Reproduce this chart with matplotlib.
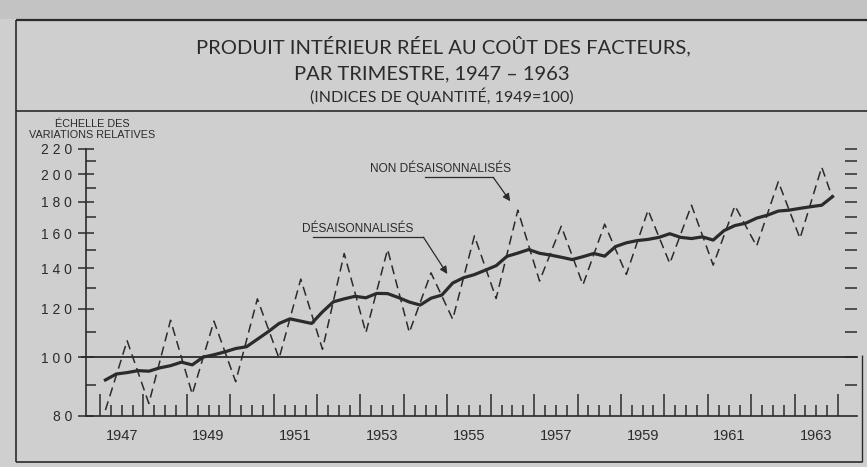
import numpy as np
import matplotlib
matplotlib.use('Agg')
import matplotlib.pyplot as plt
from matplotlib.lines import Line2D
from matplotlib.patches import Rectangle
from matplotlib.ticker import FixedLocator, FixedFormatter, NullFormatter

# ---------------- data ----------------
years = list(range(1947, 1964))

# Désaisonnalisés : one value per quarter, 1947 T1 ... 1963 T4
desaisonnalises = [
    91.7, 93.8, 94.3, 95.0,
    94.8, 96.0, 96.8, 98.1,
    97.1, 100.0, 100.9, 102.0,
    103.3, 104.0, 107.0, 110.1,
    113.6, 115.6, 114.6, 113.6,
    118.7, 123.3, 124.7, 125.9,
    125.2, 127.3, 127.2, 125.3,
    123.2, 121.8, 125.0, 126.5,
    132.4, 135.1, 136.7, 139.0,
    141.4, 146.5, 148.3, 150.3,
    148.2, 147.2, 146.0, 144.7,
    146.3, 148.1, 146.6, 152.0,
    154.2, 155.5, 156.2, 157.4,
    159.6, 157.4, 156.7, 157.7,
    155.8, 161.5, 164.6, 166.1,
    169.3, 171.2, 173.9, 174.5,
    175.7, 176.8, 177.8, 183.7,
]

# Non désaisonnalisés : troughs (1st quarter) and peaks (3rd quarter)
non_desais_t1 = [81.8, 83.9, 86.9, 91.1, 99.5, 103.0, 109.7, 109.8,
                 115.4, 124.9, 133.4, 131.5, 136.8, 142.6, 141.7, 152.3, 156.8]
non_desais_t3 = [106.4, 115.0, 114.6, 124.7, 134.4, 148.1, 150.4, 137.6,
                 158.3, 174.5, 164.2, 165.5, 174.5, 177.8, 177.4, 194.4, 205.4]
non_desais_1963_t4 = 182.6

y_ticks = [80, 100, 120, 140, 160, 180, 200, 220]
y_tick_labels = ['8 0', '1 0 0', '1 2 0', '1 4 0', '1 6 0', '1 8 0', '2 0 0', '2 2 0']
y_minor = [90, 110, 130, 150, 170, 190, 210]
y_right_ticks = [90, 100, 110, 120, 130, 140, 150, 160, 170, 180, 190, 200, 210, 220]
year_labels = ['1947', '1949', '1951', '1953', '1955', '1957', '1959', '1961', '1963']

# ---------------- style ----------------
BG = '#cfcfcf'
INK = '#2b2b2b'
W, H = 867, 467
plt.rcParams['font.family'] = ['Liberation Sans', 'DejaVu Sans']
TITLE_FONT = ['Lato', 'Liberation Sans', 'DejaVu Sans']


def fx(px):
    return px / W


def fy(py):
    return 1 - py / H


fig = plt.figure(figsize=(W / 100, H / 100), dpi=100, facecolor=BG)

# top band (scanned page above the frame)
fig.add_artist(Rectangle((0, fy(19)), 1, 1 - fy(19), transform=fig.transFigure,
                         facecolor='#c3c3c3', edgecolor='none', zorder=0))


def fline(x1, y1, x2, y2, lw=1.3):
    fig.add_artist(Line2D([fx(x1), fx(x2)], [fy(y1), fy(y2)], transform=fig.transFigure,
                          color=INK, lw=lw, solid_capstyle='butt'))


fline(16, 20, 867, 20, 1.6)
fline(16, 111, 867, 111, 1.2)
fline(16, 20, 16, 462, 1.2)
fline(16, 462, 862, 462, 1.2)
fline(862, 355, 862, 462, 1.0)

# titles
fig.text(fx(443), fy(46), 'PRODUIT INTÉRIEUR RÉEL AU COÛT DES FACTEURS,',
         ha='center', va='center', fontsize=14.5, color=INK, family=TITLE_FONT)
fig.text(fx(432), fy(74), 'PAR TRIMESTRE, 1947 – 1963',
         ha='center', va='center', fontsize=14.5, color=INK, family=TITLE_FONT)
fig.text(fx(442), fy(96), '(INDICES DE QUANTITÉ, 1949=100)',
         ha='center', va='center', fontsize=11.5, color=INK, family=TITLE_FONT)
fig.text(fx(92), fy(124), 'ÉCHELLE DES', ha='center', va='center', fontsize=7.8, color=INK)
fig.text(fx(92), fy(135), 'VARIATIONS RELATIVES', ha='center', va='center', fontsize=7.8, color=INK)

# ---------------- axes ----------------
ax = fig.add_axes([fx(86), fy(416), fx(857) - fx(86), fy(149) - fy(416)])
ax.set_facecolor('none')
ax.set_yscale('log')
ax.set_ylim(80, 220)
px_per_year = 43.4
ax.set_xlim(years[0] - 14 / px_per_year, years[-1] + 1 + 19 / px_per_year)

for s in ['top', 'right']:
    ax.spines[s].set_visible(False)
for s in ['left', 'bottom']:
    ax.spines[s].set_color(INK)
    ax.spines[s].set_linewidth(1.2)

ax.yaxis.set_major_locator(FixedLocator(y_ticks))
ax.yaxis.set_major_formatter(FixedFormatter(y_tick_labels))
ax.yaxis.set_minor_locator(FixedLocator(y_minor))
ax.yaxis.set_minor_formatter(NullFormatter())
ax.tick_params(axis='y', which='major', direction='inout', length=12, width=1.1,
               colors=INK, labelsize=10, pad=4, right=False)
ax.tick_params(axis='y', which='minor', direction='in', length=7, width=1.1,
               colors=INK, right=False)

# right-hand ticks (no spine, no labels)
axr = ax.twinx()
axr.set_yscale('log')
axr.set_ylim(ax.get_ylim())
for s in axr.spines.values():
    s.set_visible(False)
axr.yaxis.set_major_locator(FixedLocator(y_right_ticks))
axr.yaxis.set_major_formatter(NullFormatter())
axr.yaxis.set_minor_locator(FixedLocator([]))
axr.tick_params(axis='y', which='major', direction='in', length=9, width=1.1, colors=INK, pad=0)

year_edges = years + [years[-1] + 1]
ax.xaxis.set_major_locator(FixedLocator(year_edges))
ax.xaxis.set_major_formatter(NullFormatter())
quarter_ticks = [y + q / 4 for y in years for q in (1, 2, 3)]
ax.xaxis.set_minor_locator(FixedLocator(quarter_ticks))
ax.tick_params(axis='x', which='major', direction='in', length=16, width=1.1, colors=INK)
ax.tick_params(axis='x', which='minor', direction='in', length=8, width=1.1, colors=INK)

for lab in year_labels:
    ax.text(int(lab) + 0.5, -0.075, lab, transform=ax.get_xaxis_transform(),
            ha='center', va='center', fontsize=10.5, color=INK)

# reference line at 100
ax.axhline(100, xmin=-0.005, xmax=1.0, color=INK, lw=1.3, clip_on=False)

# series
xq = years[0] + (np.arange(len(desaisonnalises)) + 0.5) / 4
ax.plot(xq, desaisonnalises, color=INK, lw=2.3, solid_joinstyle='round', zorder=3)

xd, yd = [], []
for y, lo, hi in zip(years, non_desais_t1, non_desais_t3):
    xd += [y + 0.125, y + 0.625]
    yd += [lo, hi]
xd.append(years[-1] + 0.875)
yd.append(non_desais_1963_t4)
ax.plot(xd, yd, color=INK, lw=1.1, dashes=(6, 3.5), zorder=2)

# annotations
arrow = dict(arrowstyle='-|>', color=INK, lw=0.9, mutation_scale=11, shrinkA=0, shrinkB=0)
ax.text(1953.22, 204, 'NON DÉSAISONNALISÉS', ha='left', va='center', fontsize=8.6, color=INK)
ax.plot([1954.49, 1956.06], [197.5, 197.5], color=INK, lw=0.9)
ax.annotate('', xy=(1956.45, 180.5), xytext=(1956.06, 197.5), arrowprops=arrow)

ax.text(1951.65, 162.5, 'DÉSAISONNALISÉS', ha='left', va='center', fontsize=8.6, color=INK)
ax.plot([1951.9, 1954.45], [157.5, 157.5], color=INK, lw=0.9)
ax.annotate('', xy=(1955.0, 137.0), xytext=(1954.45, 157.5), arrowprops=arrow)

fig.savefig('out.png', dpi=100, facecolor=BG)
